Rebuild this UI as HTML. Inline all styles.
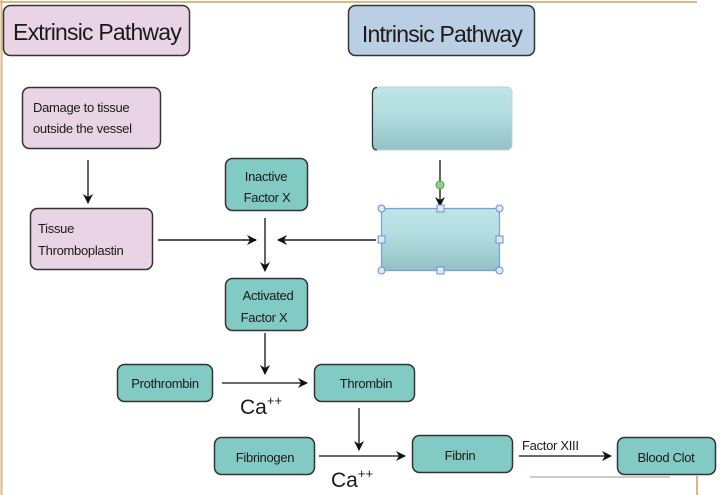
<!DOCTYPE html>
<html><head><meta charset="utf-8"><style>
html,body{margin:0;padding:0;background:#fff;}
svg{display:block;}
text{font-family:"Liberation Sans",sans-serif;fill:#1a1a1a;}
.n{font-size:13px;letter-spacing:-0.3px;}
</style></head><body>
<svg width="720" height="495" viewBox="0 0 720 495" xmlns="http://www.w3.org/2000/svg">
<defs>
<marker id="a" markerWidth="10" markerHeight="10" refX="9" refY="5" orient="auto" markerUnits="userSpaceOnUse"><path d="M0,0 L10,5 L0,10 L3,5 z" fill="#111"/></marker>
<linearGradient id="g" x1="0" y1="0" x2="0" y2="1"><stop offset="0" stop-color="#bfe6e8"/><stop offset="0.45" stop-color="#b2dcdf"/><stop offset="1" stop-color="#92c2c4"/></linearGradient>
</defs>
<line x1="0" y1="2" x2="697" y2="2" stroke="#d9b98a" stroke-width="2"/>
<line x1="1.5" y1="0" x2="1.5" y2="495" stroke="#d9b98a" stroke-width="2"/>
<line x1="697" y1="476" x2="697" y2="495" stroke="#d9b98a" stroke-width="2"/>
<line x1="530" y1="477" x2="670" y2="477" stroke="#bbb" stroke-width="1.5"/>

<rect x="3.5" y="5.5" width="186" height="50" rx="7" fill="#e8d4e4" stroke="#333" stroke-width="1.5"/>
<text x="97" y="40" font-size="23" text-anchor="middle" letter-spacing="-0.8">Extrinsic Pathway</text>
<rect x="348.5" y="5.5" width="186" height="50" rx="7" fill="#bacfe3" stroke="#333" stroke-width="1.5"/>
<text x="442" y="42" font-size="23" text-anchor="middle" letter-spacing="-0.8">Intrinsic Pathway</text>

<rect x="22.5" y="87.5" width="138" height="61" rx="7" fill="#e8d4e4" stroke="#333" stroke-width="1.5"/>
<text class="n" x="33" y="112">Damage to tissue</text>
<text class="n" x="33" y="133">outside the vessel</text>
<rect x="30.5" y="208.5" width="122" height="61" rx="7" fill="#e8d4e4" stroke="#333" stroke-width="1.5"/>
<text class="n" x="38" y="233">Tissue</text>
<text class="n" x="38" y="255">Thromboplastin</text>

<rect x="225.5" y="158.5" width="82" height="52" rx="7" fill="#82cbc4" stroke="#333" stroke-width="1.5"/>
<text class="n" x="266" y="181" text-anchor="middle">Inactive</text>
<text class="n" x="267" y="202" text-anchor="middle">Factor X</text>
<rect x="225.5" y="278.5" width="82" height="52" rx="7" fill="#82cbc4" stroke="#333" stroke-width="1.5"/>
<text class="n" x="268" y="300" text-anchor="middle">Activated</text>
<text class="n" x="264" y="322" text-anchor="middle">Factor X</text>

<rect x="372" y="87" width="140" height="63" rx="5" fill="url(#g)" stroke="#ccc" stroke-width="1"/>
<path d="M377,87.5 Q372.5,87.5 372.5,94 L372.5,144 Q372.5,150 377,150" fill="none" stroke="#333" stroke-width="1.2"/>
<rect x="381.5" y="208.5" width="118" height="62" rx="3" fill="url(#g)" stroke="#7a9fd6" stroke-width="1.2"/>

<rect x="117.5" y="364.5" width="95" height="37" rx="7" fill="#82cbc4" stroke="#333" stroke-width="1.5"/>
<text class="n" x="165" y="388" text-anchor="middle">Prothrombin</text>
<rect x="314.5" y="364.5" width="100" height="37" rx="7" fill="#82cbc4" stroke="#333" stroke-width="1.5"/>
<text class="n" x="366" y="388" text-anchor="middle">Thrombin</text>
<rect x="214.5" y="437.5" width="100" height="37" rx="7" fill="#82cbc4" stroke="#333" stroke-width="1.5"/>
<text class="n" x="265" y="462" text-anchor="middle">Fibrinogen</text>
<rect x="412.5" y="435.5" width="100" height="37" rx="7" fill="#82cbc4" stroke="#333" stroke-width="1.5"/>
<text class="n" x="460" y="460" text-anchor="middle">Fibrin</text>
<rect x="617.5" y="437.5" width="98" height="37" rx="7" fill="#82cbc4" stroke="#333" stroke-width="1.5"/>
<text class="n" x="666" y="462" text-anchor="middle">Blood Clot</text>

<g stroke="#111" stroke-width="1.3" fill="none">
<line x1="88" y1="160" x2="88" y2="203" marker-end="url(#a)"/>
<line x1="158" y1="240" x2="256" y2="240" stroke="#555" stroke-width="2" marker-end="url(#a)"/>
<line x1="376" y1="240" x2="278" y2="240" stroke="#555" stroke-width="2" marker-end="url(#a)"/>
<line x1="265" y1="218" x2="265" y2="271" marker-end="url(#a)"/>
<line x1="265" y1="333" x2="265" y2="374" marker-end="url(#a)"/>
<line x1="222" y1="383" x2="307" y2="383" marker-end="url(#a)"/>
<line x1="359" y1="408" x2="359" y2="450" marker-end="url(#a)"/>
<line x1="319" y1="456" x2="405" y2="456" marker-end="url(#a)"/>
<line x1="519" y1="456" x2="611" y2="456" marker-end="url(#a)"/>
<line x1="440" y1="160" x2="440" y2="206" marker-end="url(#a)"/>
</g>
<circle cx="440" cy="185" r="4" fill="#8fd08f" stroke="#5a9a5a"/>
<g fill="#dfe8f8" stroke="#6d8fcf" stroke-width="1">
<circle cx="381.5" cy="208.5" r="3.5"/><circle cx="499.5" cy="208.5" r="3.5"/>
<circle cx="381.5" cy="270.5" r="3.5"/><circle cx="499.5" cy="270.5" r="3.5"/>
<rect x="437" y="205" width="7" height="7"/><rect x="437" y="267" width="7" height="7"/>
<rect x="378" y="236" width="7" height="7"/><rect x="496" y="236" width="7" height="7"/>
</g>

<text x="240" y="414" font-size="21">Ca<tspan font-size="13" dy="-9">++</tspan></text>
<text x="331" y="487" font-size="21">Ca<tspan font-size="13" dy="-9">++</tspan></text>
<text x="522" y="450" font-size="13" letter-spacing="-0.3">Factor XIII</text>
</svg>
</body></html>
